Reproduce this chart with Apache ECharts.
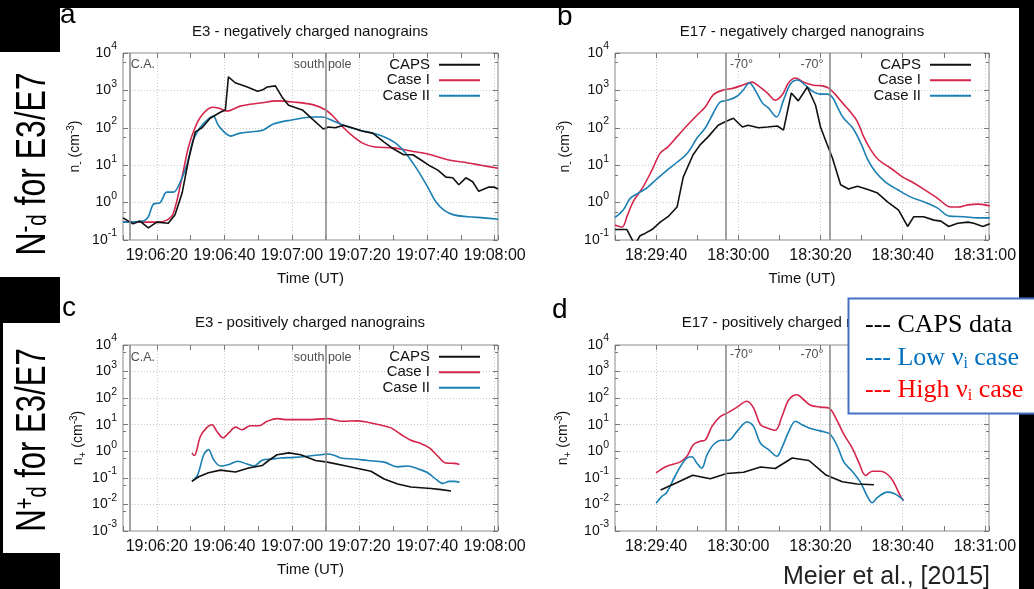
<!DOCTYPE html>
<html><head><meta charset="utf-8">
<script src="https://cdn.jsdelivr.net/npm/echarts@6/dist/echarts.min.js"></script>
<style>html,body{margin:0;padding:0;background:#fff}#c{width:1034px;height:589px}</style>
</head><body><div id="c"></div>
<script>
// ---------- DATA (time = seconds after 19:06:00 for E3, after 18:29:00 for E17; density in cm^-3) ----------
const seriesNames = ['CAPS', 'Case I', 'Case II'];
const xTickSeconds = [20, 40, 60, 80, 100, 120];

// Panel a: E3 negative
const aCapsT = [10,13,15,17.5,20,23.4,25.4,27.5,29.4,31.4,33.4,35.8,38.8,40.3,41.2,43.2,46.8,49.8,51.2,52.7,55.1,57.1,59,63.1,66.4,69.3,70.8,72.8,75.3,77.8,80.9,83.9,87.2,90.1,93.1,95.8,98.1,100.5,103.2,105.6,107.6,109.4,111.5,113.5,115.3,118.3,119.8,121];
const aCapsN = [0.39,0.27,0.32,0.21,0.30,0.28,0.47,1.8,14,78,100,180,260,300,2300,1600,1230,950,1020,1230,1320,660,400,300,160,93,105,100,117,100,81,72,42,27,19,19,14,10,7.4,4.8,4.6,3.0,4.6,3.6,2.0,2.6,2.6,2.3];
const aCase1T = [10,17,20,23,24.9,27.5,29.4,31.4,33.4,36.4,38.2,40.9,44.7,50.7,55.7,60.4,66.4,70,72.4,75.3,78.2,80.9,84.2,90.1,95.2,100.2,106.1,112.1,115.9,121];
const aCase1N = [0.30,0.30,0.30,0.34,0.52,4.9,31,105,220,355,340,280,380,460,525,490,410,300,195,100,58,39,31,29,24,20,14,11.5,10,8.3];
const aCase2T = [10,16,17.5,19,21,23,24.9,26.9,29,30.8,32.8,34.9,36.7,38.2,40.3,41.8,44.7,49.8,51.5,54.5,59.6,66.4,69,72.4,77.4,82.4,87.2,90.7,93.7,97.2,100.2,102.6,105,107.9,112.1,116.8,121];
const aCase2N = [0.30,0.32,0.42,0.91,1.0,1.9,1.9,3.5,11,47,100,160,205,117,72,60,72,81,87,126,160,195,195,150,100,78,58,39,21,7.4,2.6,1.05,0.63,0.47,0.42,0.39,0.36];

// Panel b: E17 negative
const bCapsT = [30,32.9,34.8,36.1,37.3,39,41,42.9,45.1,46.6,49,50.7,52.7,55.1,56.8,58.8,61,62.4,64.9,67.1,69.5,71,72.9,74.6,76.8,78.8,80,81.2,82.9,84.9,86.8,89,91.7,93.9,96.3,99,101.2,102.7,105.1,107.6,109.3,111.2,113.4,115.9,117.3,119.5,121.2];
const bCapsN = [0.19,0.19,0.075,0.13,0.15,0.19,0.30,0.42,0.76,4.8,19,35,58,117,145,180,105,117,100,105,112,87,850,525,1230,400,105,47,15.5,3.0,2.3,2.75,2.2,1.8,1.05,0.63,0.23,0.42,0.42,0.34,0.32,0.23,0.28,0.30,0.28,0.23,0.27];
const bCase1T = [30,31.7,32.9,34.4,36.8,39,41,42.9,45.1,47.6,50,52,53.9,56.3,58.8,61,62.4,63.4,64.9,67.1,69,70.7,72.2,73.9,75.9,78.3,80.5,82,83.7,85.4,87.3,89,90.5,92.2,94.1,97.1,100,102.4,105.1,108.5,111.7,113.4,115.9,118.5,121.2];
const bCase1N = [0.25,0.22,0.42,1.05,2.6,7.4,21,31,58,117,220,363,760,1020,1150,1380,1580,1660,1320,850,550,760,1580,2140,1660,1380,1320,1150,760,457,263,145,58,26,14,8.3,4.8,3.5,2.3,1.3,0.76,0.76,0.87,0.91,0.81];
const bCase2T = [30,32,33.7,36.1,38,40.2,42.7,45.1,47.6,50,52,53.9,55.6,57.6,59.8,61.2,62.7,64.1,65.9,67.3,69.3,71,72.7,74.4,76.3,78.3,80,81.7,82.9,84.1,85.6,87.8,89.8,91.5,93.4,95.9,98.8,102,105.1,108.5,111.2,114.9,118.3,121.2];
const bCase2N = [0.40,0.63,1.3,1.9,2.6,4.3,7.4,12,21,54,100,245,490,550,710,1020,1580,1020,457,340,195,550,1480,1900,1380,910,794,794,660,363,182,100,39,14,6.6,3.5,2.2,1.4,1.05,0.71,0.44,0.42,0.39,0.39];

// Panel c: E3 positive
const cCapsT = [30.4,32.4,35.3,38.8,43.3,47.2,51.2,53.2,55.6,59.1,62.6,67,70.5,76.4,83.4,87.3,91.3,95.2,101.2,104.2,107.1];
const cCapsN = [0.074,0.11,0.155,0.195,0.166,0.234,0.29,0.46,0.74,0.87,0.74,0.45,0.39,0.275,0.178,0.091,0.059,0.045,0.04,0.036,0.032];
const cCase1T = [30.4,31.1,32.9,34.7,36.3,37.8,39.6,41.3,43.3,45.2,47.7,50.2,52.7,55.6,58.6,64.6,70.5,75,79.4,82.4,85.8,89.3,92.3,95.2,98.2,100.7,103.2,105.6,108.1,109.6];
const cCase1N = [0.87,0.69,3.6,7.6,10,5.6,3.2,4.9,8.1,6.5,9.1,9.1,13.5,17,15.5,15.5,17,13.5,14,12.3,10,7.6,4.3,2.6,1.95,1.35,0.65,0.36,0.35,0.32];
const cCase2T = [30.4,32.1,33.9,35.3,36.8,38.8,41.3,44,46.7,48.7,51.2,54.2,56.6,60.6,64.6,68.5,70.5,72.5,74.5,78.4,82.4,87.3,91.3,94.3,97.2,100.2,102.7,104.7,106.6,108.1,109.6];
const cCase2N = [0.074,0.13,0.74,1.15,0.49,0.28,0.32,0.42,0.33,0.28,0.46,0.51,0.56,0.59,0.65,0.74,0.79,0.71,0.56,0.51,0.45,0.39,0.26,0.28,0.22,0.155,0.087,0.062,0.074,0.074,0.069];

// Panel d: E17 positive
const dCapsT = [41.1,45,48.9,53.2,57.2,61.3,65.4,69,73.1,77.2,81.2,85.3,88.9,93];
const dCapsN = [0.035,0.065,0.126,0.093,0.145,0.162,0.257,0.224,0.56,0.45,0.132,0.071,0.059,0.055];
const dCase1T = [40,42.6,45.8,47.5,49.1,50.7,51.9,53.6,55.6,57.6,59.7,62.1,63.7,65.4,67,69,70.6,72.3,74.3,75.9,77.6,80,82,83.7,85.7,87.7,89.4,91,92.6,94.6,97.1,99.5,100.2];
const dCase1N = [0.155,0.275,0.39,0.65,1.8,2.4,2.6,8.7,20,29,46,76,43,10,7.6,6.2,20,87,135,87,54,46,43,18,4.3,1.35,0.36,0.123,0.178,0.178,0.1,0.02,0.014];
const dCase2T = [40,41.4,42.6,44.6,47.1,48.7,49.9,51.1,52.4,54,56,57.6,59.7,62.1,63.7,65.4,67.4,69.4,70.6,72.3,73.9,75.5,77.2,79.2,80.8,82.4,84.1,85.7,87.7,89.8,91.4,92.6,93.8,96.3,97.9,99.5,100.2];
const dCase2N = [0.011,0.020,0.028,0.115,0.49,0.62,0.36,0.23,0.74,1.8,2.6,2.6,5.6,12.6,8.7,2.0,1.15,0.65,1.35,5.6,13.5,10,7.6,6.2,5.4,4.3,1.55,0.39,0.178,0.065,0.020,0.0115,0.018,0.029,0.026,0.018,0.014];

// Event markers
const e3Markers = [12, 70];            // C.A., south pole
const e3MarkerText = ['C.A.', 'south pole'];
const e17Markers = [57, 82.2];         // -70° latitude crossings
const e17MarkerText = ['-70°', '-70°'];

// ---------- STYLE ----------
const FONT = '"Liberation Sans", Arial, sans-serif';
const SERIF = '"Liberation Serif", "Times New Roman", serif';
const colors = ['#111111', '#d4264b', '#1a7fb3'];
const gridCol = '#c9c9c9';
const frameCol = '#8a8a8a';

const grids = [
  {left: 123, top: 53, width: 375, height: 187},
  {left: 615, top: 53, width: 374, height: 187},
  {left: 123, top: 345, width: 375, height: 186},
  {left: 615, top: 345, width: 374, height: 186}
].map(g => Object.assign({show: true, borderColor: frameCol, borderWidth: 1, backgroundColor: '#fff', outerBoundsMode: 'none', containLabel: false}, g));

function timeFmt(base) {
  return function (v) {
    if (xTickSeconds.indexOf(v) < 0) return '';
    const tot = base + v;
    const h = Math.floor(tot / 3600), m = Math.floor((tot % 3600) / 60), s = tot % 60;
    const p = n => (n < 10 ? '0' : '') + n;
    return p(h) + ':' + p(m) + ':' + p(s);
  };
}
const baseE3 = 19 * 3600 + 6 * 60;
const baseE17 = 18 * 3600 + 29 * 60;

const xAxis = [], yAxis = [];
function addX(gi, min, base, name) {
  xAxis.push({
    type: 'value', gridIndex: gi, min: min, max: 121, interval: 10, position: 'bottom',
    axisLine: {show: false},
    axisTick: {show: true, inside: true, length: 5, lineStyle: {color: '#777'}},
    axisLabel: {formatter: timeFmt(base), fontSize: 16, color: '#111', margin: 8, fontFamily: FONT},
    splitLine: {show: true, lineStyle: {color: ['rgba(0,0,0,0)', gridCol], type: [1, 2], width: 1}},
    name: name, nameLocation: 'middle', nameGap: 31,
    nameTextStyle: {fontSize: 15, color: '#111', fontFamily: FONT}
  });
  xAxis.push({
    type: 'value', gridIndex: gi, min: min, max: 121, interval: 10, position: 'top',
    axisLine: {show: false}, axisLabel: {show: false}, splitLine: {show: false},
    axisTick: {show: true, inside: true, length: 5, lineStyle: {color: '#777'}}
  });
}
function yFmt(v) {
  const l = Math.log10(v), e = Math.round(l);
  if (Math.abs(l - e) > 1e-6) return '';
  return '{b|10}{s|' + e + '}';
}
function addY(gi, min, split, sign, gap) {
  yAxis.push({
    type: 'log', logBase: 10, gridIndex: gi, min: min, max: 1e4, splitNumber: split, position: 'left',
    axisLine: {show: false},
    axisTick: {show: true, inside: true, length: 5, lineStyle: {color: '#777'}},
    minorTick: {show: true, splitNumber: 2, length: 3, lineStyle: {color: '#777'}},
    axisLabel: {formatter: yFmt, margin: 6, color: '#111', fontFamily: FONT,
      rich: {b: {fontSize: 14, fontFamily: FONT, color: '#111'}, s: {fontSize: 10.5, fontFamily: FONT, color: '#111', padding: [0, 0, 13, 0]}}},
    splitLine: {show: true, lineStyle: {color: gridCol, type: [1, 2], width: 1}},
    minorSplitLine: {show: false},
    name: 'n{sb|' + sign + '} (cm{sp|-3})', nameLocation: 'middle', nameRotate: 90, nameGap: gap,
    nameTextStyle: {fontSize: 14, color: '#111', fontFamily: FONT,
      rich: {sb: {fontSize: 10, fontFamily: FONT, color: '#111', padding: [9, 0, 0, 0]},
             sp: {fontSize: 10, fontFamily: FONT, color: '#111', padding: [0, 0, 9, 0]}}}
  });
  yAxis.push({
    type: 'log', logBase: 10, gridIndex: gi, min: min, max: 1e4, splitNumber: split, position: 'right',
    axisLine: {show: false}, axisLabel: {show: false}, splitLine: {show: false},
    axisTick: {show: true, inside: true, length: 5, lineStyle: {color: '#777'}},
    minorTick: {show: true, splitNumber: 2, length: 3, lineStyle: {color: '#777'}}
  });
}
addX(0, 10, baseE3, 'Time (UT)');  addY(0, 0.1, 5, '-', 38);
addX(1, 30, baseE17, 'Time (UT)'); addY(1, 0.1, 5, '-', 40);
addX(2, 10, baseE3, 'Time (UT)');  addY(2, 0.001, 7, '+', 35);
addX(3, 30, baseE17, '');          addY(3, 0.001, 7, '+', 42);

const zip = (t, v) => t.map((x, i) => [x, v[i]]);
const series = [];
function addPanel(gi, sets, markers, markerText, labelY, labelPos) {
  sets.forEach((s, k) => {
    const obj = {
      type: 'line', name: seriesNames[k], xAxisIndex: gi * 2, yAxisIndex: gi * 2,
      data: zip(s[0], s[1]), symbol: 'none', showSymbol: false,
      smooth: k === 0 ? false : 0.35,
      lineStyle: {color: colors[k], width: 1.6}, itemStyle: {color: colors[k]},
      clip: true, z: k === 0 ? 4 : 3
    };
    if (k === 0) {
      obj.markLine = {silent: true, symbol: ['none', 'none'], label: {show: false},
        lineStyle: {color: '#8c8c8c', width: 1.6, type: 'solid'},
        data: markers.map(m => ({xAxis: m}))};
    }
    series.push(obj);
  });
  series.push({
    type: 'scatter', xAxisIndex: gi * 2, yAxisIndex: gi * 2, symbolSize: 0, silent: true,
    data: markers.map((m, i) => ({value: [m, labelY], label: Object.assign({show: true, formatter: markerText[i],
      fontSize: 12.5, color: '#222', fontFamily: FONT}, labelPos[i])}))
  });
}
addPanel(0, [[aCapsT, aCapsN], [aCase1T, aCase1N], [aCase2T, aCase2N]], e3Markers, e3MarkerText, 4800,
  [{position: 'right', distance: 1}, {position: 'inside', offset: [-3, 0]}]);
addPanel(1, [[bCapsT, bCapsN], [bCase1T, bCase1N], [bCase2T, bCase2N]], e17Markers, e17MarkerText, 4800,
  [{position: 'right', distance: 4}, {position: 'left', distance: 6}]);
addPanel(2, [[cCapsT, cCapsN], [cCase1T, cCase1N], [cCase2T, cCase2N]], e3Markers, e3MarkerText, 3500,
  [{position: 'right', distance: 1}, {position: 'inside', offset: [-3, 0]}]);
addPanel(3, [[dCapsT, dCapsN], [dCase1T, dCase1N], [dCase2T, dCase2N]], e17Markers, e17MarkerText, 4300,
  [{position: 'right', distance: 4}, {position: 'left', distance: 6}]);

const legendBase = {orient: 'vertical', align: 'right', itemWidth: 41, itemHeight: 2, itemGap: 0, icon: 'rect',
  padding: 0, selectedMode: false, data: seriesNames,
  textStyle: {fontSize: 15, lineHeight: 15.5, color: '#111', fontFamily: FONT, padding: [0, 4, 0, 0]}};
const legend = [
  Object.assign({}, legendBase, {right: 554, top: 57}),
  Object.assign({}, legendBase, {right: 63, top: 57}),
  Object.assign({}, legendBase, {right: 554, top: 349})
];

function txt(x, y, text, size, opts) {
  return Object.assign({type: 'text', x: x, y: y, z: 50,
    style: Object.assign({text: text, fontSize: size, fontFamily: FONT, fill: '#111', align: 'center', verticalAlign: 'middle'}, (opts && opts.style) || {})},
    opts && opts.el || {});
}
function rect(x, y, w, h, fill) {
  return {type: 'rect', z: 60, shape: {x: x, y: y, width: w, height: h}, style: {fill: fill}, silent: true};
}
const sideRich = {
  sup: {fontSize: 27, fontFamily: FONT, fill: '#000', verticalAlign: 'top', padding: [0, 0, 16, 0]},
  sub: {fontSize: 27, fontFamily: FONT, fill: '#000', padding: [10, 0, 0, 0]}
};
const graphic = [
  // slide background blocks
  rect(0, 0, 1034, 8, '#000'),
  rect(0, 0, 60, 52, '#000'),
  rect(0, 277, 60, 46, '#000'),
  rect(0, 323, 3, 230, '#000'),
  rect(0, 553, 60, 36, '#000'),
  rect(1019, 0, 15, 300, '#000'),
  rect(1019, 412, 15, 177, '#000'),
  // side labels
  {type: 'text', x: 55, y: 164, rotation: Math.PI / 2, scaleX: 0.76, z: 70,
    style: {text: 'N{sup|-}{sub|d} for E3/E7', rich: sideRich, fontSize: 42, fontFamily: FONT, fill: '#000', align: 'center', verticalAlign: 'bottom'}},
  {type: 'text', x: 55, y: 440, rotation: Math.PI / 2, scaleX: 0.74, z: 70,
    style: {text: 'N{sup|+}{sub|d} for E3/E7', rich: sideRich, fontSize: 42, fontFamily: FONT, fill: '#000', align: 'center', verticalAlign: 'bottom'}},
  // panel letters
  txt(60, 15, 'a', 28, {style: {align: 'left', fill: '#000'}}),
  txt(557, 17, 'b', 28, {style: {align: 'left', fill: '#000'}}),
  txt(62, 308, 'c', 28, {style: {align: 'left', fill: '#000'}}),
  txt(552, 310, 'd', 28, {style: {align: 'left', fill: '#000'}}),
  // titles
  txt(310, 32, 'E3 - negatively charged nanograins', 15),
  txt(802, 32, 'E17 - negatively charged nanograins', 15),
  txt(310, 323, 'E3 - positively charged nanograins', 15),
  txt(801, 323, 'E17 - positively charged nanograins', 15),
  // overlay legend box
  {type: 'rect', z: 80, shape: {x: 848.5, y: 298.5, width: 200, height: 115}, style: {fill: '#fff', stroke: '#4472c4', lineWidth: 2}},
  txt(865, 325, '--- CAPS data', 26, {style: {align: 'left', fontFamily: SERIF, fill: '#000'}, el: {z: 90}}),
  txt(865, 358, '--- Low ν{i|i} case', 26, {style: {align: 'left', fontFamily: SERIF, fill: '#0070c0',
    rich: {i: {fontSize: 16, fontFamily: SERIF, fill: '#0070c0', padding: [12, 0, 0, 0]}}}, el: {z: 90}}),
  txt(865, 390, '--- High ν{i|i} case', 26, {style: {align: 'left', fontFamily: SERIF, fill: '#ff0000',
    rich: {i: {fontSize: 16, fontFamily: SERIF, fill: '#ff0000', padding: [12, 0, 0, 0]}}}, el: {z: 90}}),
  // citation
  txt(783, 577, 'Meier et al., [2015]', 25, {style: {align: 'left', fill: '#222'}})
];

const chart = echarts.init(document.getElementById('c'), null, {renderer: 'canvas'});
chart.setOption({
  animation: false,
  backgroundColor: '#fff',
  textStyle: {fontFamily: FONT},
  grid: grids, xAxis: xAxis, yAxis: yAxis, series: series, legend: legend, graphic: graphic
});
</script></body></html>
